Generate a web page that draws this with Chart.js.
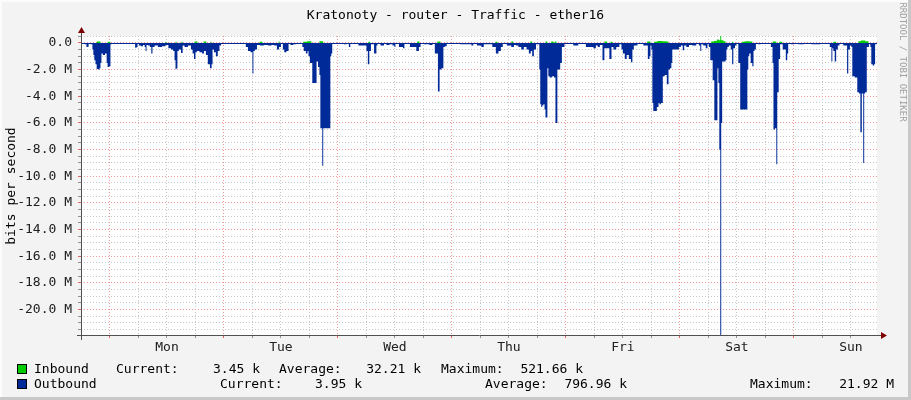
<!DOCTYPE html>
<html>
<head>
<meta charset="utf-8">
<script src="https://cdn.jsdelivr.net/npm/chart.js@4.4.1/dist/chart.umd.min.js"></script>
<style>
body { margin: 0; background: #f3f3f3; }
#wrap { position: relative; width: 911px; height: 400px; overflow: hidden; font-family: "DejaVu Sans Mono", monospace; font-size: 13px; color: #000; }
#wrap canvas { position: absolute; left: 0; top: 0; }
.t { position: absolute; white-space: pre; line-height: 16px; }
.box { position: absolute; width: 10px; height: 10px; box-sizing: border-box; border: 1px solid #000; }
.frame { position: absolute; pointer-events: none; }
</style>
</head>
<body>
<div id="wrap">
    <canvas id="trafficChart" width="911" height="400"></canvas>
    <div class="t" style="left:0;width:911px;text-align:center;top:7px">Kratonoty - router - Traffic - ether16</div>
    <div class="t" style="left:-89px;top:178px;width:200px;text-align:center;transform:rotate(-90deg)">bits per second</div>
    <div class="t" style="left:843px;top:54px;width:120px;text-align:center;transform:rotate(90deg);font-size:9px;color:#a0a0a0">RRDTOOL / TOBI OETIKER</div>

    <div class="box" style="left:17px;top:364px;background:#00cc00"></div>
    <div class="t" style="left:34px;top:361px">Inbound</div>
    <div class="t" style="left:116px;top:361px">Current:</div>
    <div class="t" style="right:651px;top:361px">3.45 k</div>
    <div class="t" style="left:279px;top:361px">Average:</div>
    <div class="t" style="right:490px;top:361px">32.21 k</div>
    <div class="t" style="left:441px;top:361px">Maximum:</div>
    <div class="t" style="right:328px;top:361px">521.66 k</div>

    <div class="box" style="left:17px;top:379px;background:#002a97"></div>
    <div class="t" style="left:34px;top:376px">Outbound</div>
    <div class="t" style="left:220px;top:376px">Current:</div>
    <div class="t" style="right:549px;top:376px">3.95 k</div>
    <div class="t" style="left:485px;top:376px">Average:</div>
    <div class="t" style="right:284px;top:376px">796.96 k</div>
    <div class="t" style="left:750px;top:376px">Maximum:</div>
    <div class="t" style="right:17px;top:376px">21.92 M</div>

    <div class="frame" style="left:0;top:0;width:911px;height:2px;background:#fcfcfc"></div>
    <div class="frame" style="left:0;top:0;width:2px;height:400px;background:#fcfcfc"></div>
    <div class="frame" style="right:0;top:0;width:3px;height:400px;background:#c8c8c8"></div>
    <div class="frame" style="left:0;bottom:0;width:911px;height:3px;background:#c8c8c8"></div>
</div>

<script>
// hours from Monday 00:00, traffic in Mbit/s (outbound drawn negative)
const dayNames = ['Mon', 'Tue', 'Wed', 'Thu', 'Fri', 'Sat', 'Sun'];
const startHour = -6.1;
const endHour = 161.5;
const yMin = -21.9;
const yMax = 0.52;

const inbound = [
    [-6.1, 0], [-2.9, 0], [-2.7, 0.1], [-2.1, 0.1], [-1.9, 0],
    [-0.6, 0], [-0.4, 0.08], [0, 0.08], [0.2, 0],
    [11.6, 0], [11.8, 0.08], [12.0, 0], [13.7, 0], [13.9, 0.08], [14.1, 0],
    [14.9, 0], [15.2, 0.08], [15.4, 0],
    [17.7, 0], [17.9, 0.1], [18.3, 0.1], [18.5, 0],
    [19.6, 0], [19.8, 0.1], [20.2, 0.1], [20.4, 0],
    [21.1, 0], [21.3, 0.08], [21.5, 0],
    [31.4, 0], [31.6, 0.08], [32.0, 0.08], [32.2, 0],
    [35.4, 0], [35.6, 0.1], [35.8, 0],
    [40.6, 0], [40.8, 0.08], [41.3, 0.08], [41.7, 0.12], [42.3, 0.12], [42.5, 0],
    [44.0, 0], [44.2, 0.12], [44.8, 0.12], [45.0, 0],
    [54.3, 0], [54.5, 0.08], [54.7, 0.08], [54.9, 0],
    [64.6, 0], [64.8, 0.1], [65.0, 0.1], [65.3, 0],
    [68.8, 0], [69.0, 0.1], [69.5, 0.1], [69.7, 0],
    [81.0, 0], [81.3, 0.08], [81.5, 0.08], [81.7, 0],
    [84.4, 0], [84.6, 0.1], [84.8, 0.1], [85.0, 0],
    [88.4, 0], [88.6, 0.1], [88.8, 0.1], [89.0, 0],
    [91.6, 0], [91.8, 0.1], [92.0, 0.1], [92.2, 0],
    [92.8, 0], [93.0, 0.1], [93.3, 0.1], [93.5, 0.03], [93.9, 0.1], [94.1, 0],
    [104.0, 0], [104.2, 0.1], [104.6, 0.1], [104.8, 0],
    [105.3, 0], [105.5, 0.08], [105.7, 0.08], [105.9, 0],
    [113.0, 0], [113.2, 0.1], [113.7, 0.1], [113.9, 0],
    [114.5, 0], [114.7, 0.08], [115.8, 0.15], [116.6, 0.12], [117.5, 0.1], [117.7, 0],
    [126.5, 0], [126.7, 0.1], [127.6, 0.15], [128.0, 0.25], [128.4, 0.2], [128.6, 0.52], [128.8, 0.2], [129.5, 0.12], [129.7, 0],
    [130.9, 0], [131.1, 0.08], [131.4, 0],
    [133.0, 0], [133.2, 0.08], [134.1, 0.12], [135.1, 0.1], [135.4, 0],
    [139.4, 0], [139.6, 0.1], [140.2, 0.1], [140.4, 0],
    [140.8, 0], [141.0, 0.08], [141.4, 0.08], [141.7, 0],
    [152.2, 0], [152.4, 0.08], [152.8, 0.08], [153.0, 0],
    [157.5, 0], [157.7, 0.12], [158.5, 0.18], [159.6, 0.12], [159.8, 0],
    [161.5, 0]
];

const outbound = [
    // Sunday evening
    [-6.1, 0], [-5.5, -0.05], [-5.1, -0.1], [-4.8, -0.3], [-4.6, -0.28], [-4.4, -0.05], [-3.8, -0.1],
    [-3.6, -0.5], [-3.4, -0.9], [-3.2, -1.3], [-2.9, -1.6], [-2.7, -1.95], [-2.3, -2.0], [-2.1, -1.9],
    [-1.9, -1.5], [-1.7, -0.8], [-1.3, -0.9], [-0.8, -0.8], [-0.6, -1.5], [-0.4, -1.8], [0, -1.75],
    [0.2, -0.1], [0.6, 0],
    // Mon
    [5.1, -0.05], [5.5, -0.37], [5.7, -0.3], [5.9, -0.05], [6.3, -0.2], [6.7, -0.25], [7.2, -0.15],
    [7.4, -0.3], [7.6, -0.6], [7.8, -0.15], [8.2, -0.2], [8.6, -0.3], [8.8, -0.8], [9.1, -0.3],
    [9.7, -0.2], [10.5, -0.3], [11.4, -0.25], [12.0, -0.15], [12.6, -0.4], [13.1, -0.5], [13.5, -0.6],
    [13.7, -1.3], [13.9, -1.97], [14.1, -1.9], [14.3, -0.6], [14.7, -0.5], [15.2, -0.75], [15.4, -0.2],
    [16.0, -0.3], [16.8, -0.2], [17.3, -0.5], [17.5, -0.8], [17.9, -1.2], [18.1, -0.7], [18.5, -0.6],
    [19.2, -0.7], [19.6, -0.8], [20.0, -0.6], [20.4, -0.9], [20.8, -1.6], [21.3, -1.9], [21.5, -1.6],
    [21.7, -0.5], [22.1, -0.7], [22.5, -1.0], [22.9, -0.6], [23.2, -0.2], [23.6, 0],
    // Tue
    [28.4, -0.05], [28.8, -0.3], [29.3, -0.6], [29.9, -0.7], [30.1, -2.3], [30.3, -0.6], [30.7, -0.5],
    [31.2, -0.15], [32.0, -0.2], [32.8, -0.15], [33.7, -0.2], [34.3, -0.15], [34.9, -0.2], [35.4, -0.5],
    [35.8, -0.3], [36.2, -0.05], [36.6, -0.5], [36.8, -0.7], [37.5, -0.6], [37.7, -0.05], [38.3, -0.15],
    [38.9, -0.1], [39.4, 0],
    [40.4, -0.05], [40.6, -0.3], [41.0, -0.6], [41.5, -0.8], [41.7, -0.6], [41.9, -1.0], [42.3, -1.5],
    [42.5, -1.5], [42.7, -3.0], [43.2, -3.0], [43.4, -3.0], [43.6, -1.4], [44.0, -1.8], [44.2, -2.4],
    [44.4, -6.4], [44.6, -6.4], [44.8, -9.2], [45.0, -6.4], [46.1, -6.4], [46.3, -6.4], [46.5, -1.0],
    [46.7, -0.8], [46.9, -0.05], [47.4, 0],
    // Wed
    [49.0, -0.05], [49.5, -0.1], [50.1, -0.05], [50.5, -0.3], [50.7, -0.05], [53.9, -0.2], [54.1, -0.6],
    [54.5, -1.6], [54.7, -0.6], [55.2, -0.1], [56.0, -0.8], [56.2, -0.2], [56.4, 0],
    [57.5, -0.2], [57.9, -0.05], [58.5, -0.15], [59.2, -0.1], [59.8, -0.2], [60.0, -0.3], [60.2, -0.05],
    [61.5, -0.3], [61.9, -0.4], [62.1, -0.05], [64.2, -0.3], [64.8, -0.6], [65.3, -0.3], [65.5, 0],
    [66.7, -0.1], [67.8, -0.15], [68.0, 0], [68.8, -0.8], [69.3, -3.65], [69.5, -2.0], [70.1, -1.9],
    [70.3, -0.3], [70.7, -0.25], [71.1, -0.05], [71.6, 0],
    // Thu
    [75.8, -0.1], [76.4, -0.2], [76.6, 0], [77.9, -0.2], [78.5, -0.3], [78.9, -0.1], [80.0, -0.1],
    [81.0, -0.3], [81.5, -0.8], [82.1, -0.6], [82.5, -0.3], [82.9, -0.05], [84.2, -0.2], [84.8, -0.3],
    [85.3, -0.15], [85.7, -0.2], [86.3, -0.3], [86.9, -0.5], [87.4, -0.3], [88.0, -0.5], [88.4, -0.8],
    [88.8, -0.6], [89.0, -1.0], [89.5, -0.5], [89.9, -0.1], [90.3, -0.1], [90.5, -2.0], [90.7, -4.6],
    [90.9, -4.8], [91.1, -4.7], [91.4, -4.6], [91.6, -5.0], [91.8, -5.6], [92.0, -5.6], [92.2, -1.9],
    [92.4, -2.5], [92.8, -2.6], [93.3, -2.5], [93.7, -2.6], [93.9, -6.0], [94.1, -6.0], [94.3, -2.0],
    [94.7, -2.0], [94.9, -1.5], [95.4, -0.3], [96.0, -0.05], [96.8, 0],
    // Fri
    [98.3, -0.2], [98.9, -0.05], [101.5, -0.3], [102.1, -0.4], [102.5, -0.2], [102.9, -0.3], [103.4, -0.15],
    [104.0, -1.3], [104.2, -0.4], [104.8, -0.4], [105.5, -1.2], [105.7, -0.3], [106.3, -0.5], [106.9, -0.3],
    [107.6, -0.1], [107.8, -0.5], [108.2, -0.8], [108.6, -1.2], [109.0, -0.9], [109.5, -1.2], [109.9, -1.45],
    [110.1, -0.5], [110.5, -0.2], [111.6, 0],
    [113.0, -0.2], [113.5, -1.2], [113.7, -1.0], [113.9, -0.2], [114.1, -0.5], [114.3, -4.5], [114.5, -5.1],
    [114.9, -5.1], [115.4, -4.8], [115.6, -4.5], [115.8, -4.6], [116.2, -4.5], [116.6, -2.5], [117.0, -2.4],
    [117.5, -3.1], [117.7, -2.0], [118.1, -1.9], [118.3, -1.5], [118.5, -0.5], [119.6, -0.5], [120.0, -0.3],
    [120.4, -0.2], [120.8, -0.55], [121.0, -0.2], [121.7, -0.3], [122.1, -0.15], [123.1, -0.2], [123.8, -0.05],
    [124.2, -0.2], [124.4, -0.6], [124.6, -0.1], [125.2, -0.2], [125.7, -0.4], [125.9, -0.1],
    // Sat
    [126.3, -0.3], [126.5, -1.3], [126.7, -1.3], [127.1, -2.8], [127.4, -5.8], [127.6, -5.8], [127.8, -5.8],
    [128.0, -1.9], [128.2, -3.0], [128.4, -8.0], [128.6, -21.9], [128.8, -6.0], [129.0, -1.4], [129.5, -1.4],
    [129.7, -1.3], [129.9, -0.5], [130.1, -0.3], [130.5, -0.2], [130.9, -0.5], [131.1, -1.6], [131.4, -0.4],
    [131.8, -0.2], [132.0, -0.05],
    [132.6, -1.5], [132.8, -5.0], [133.2, -5.0], [133.5, -5.0], [133.9, -5.0], [134.1, -5.0], [134.3, -2.0],
    [134.5, -1.0], [134.7, -0.8], [135.1, -1.5], [135.4, -1.75], [135.6, -0.6], [135.8, -0.5], [136.2, -0.05],
    [136.8, -0.1], [137.2, -0.05], [138.9, -0.05],
    [139.4, -0.3], [139.6, -1.5], [139.8, -6.5], [140.2, -6.4], [140.4, -9.1], [140.6, -3.7], [141.0, -1.2],
    [141.2, -0.1], [142.1, -0.5], [142.5, -1.3], [142.7, -0.8], [142.9, -0.05], [143.8, -0.1], [144.2, -0.05],
    [145.7, -0.1], [146.5, 0],
    // Sun
    [149.0, -0.1], [149.5, -0.1], [149.7, 0], [151.3, -0.05], [151.8, -0.3], [152.0, -1.4], [152.2, -0.4],
    [152.4, -0.6], [152.8, -1.4], [153.0, -0.5], [153.5, -0.2], [153.7, -0.05],
    [155.1, -0.2], [155.3, -2.3], [155.6, -0.5], [156.0, -0.2], [156.2, -0.3], [156.4, -2.5], [157.2, -2.6],
    [157.5, -3.7], [157.9, -3.8], [158.1, -6.7], [158.5, -3.8], [158.7, -9.0], [158.9, -3.8], [159.1, -3.7],
    [159.6, -0.3], [160.0, -0.1], [160.2, -0.3], [160.4, -1.6], [160.8, -1.7], [161.0, -1.6], [161.2, -0.1],
    [161.5, 0]
];

const MONO = '"DejaVu Sans Mono", monospace';

const rrdFrame = {
    id: 'rrdFrame',
    beforeDraw(chart) {
        const { ctx, chartArea: a } = chart;
        ctx.save();
        ctx.fillStyle = '#ffffff';
        ctx.fillRect(a.left, a.top, a.right - a.left, a.bottom - a.top);
        ctx.restore();
    },
    afterDatasetsDraw(chart) {
        const { ctx, chartArea: a } = chart;
        const y0 = Math.round(chart.scales.y.getPixelForValue(0)) + 0.5;
        ctx.save();
        ctx.strokeStyle = '#002a97';
        ctx.lineWidth = 1;
        ctx.beginPath();
        ctx.moveTo(a.left, y0);
        ctx.lineTo(a.right, y0);
        ctx.stroke();

        // axes
        const xb = Math.round(a.bottom) + 0.5;
        const yl = Math.round(a.left) + 0.5;
        ctx.strokeStyle = '#505050';
        ctx.beginPath();
        ctx.moveTo(a.left - 4, xb);
        ctx.lineTo(a.right + 5, xb);
        ctx.moveTo(yl, a.bottom + 5);
        ctx.lineTo(yl, a.top - 4);
        ctx.stroke();

        // arrow heads
        ctx.fillStyle = '#7f0000';
        ctx.beginPath();
        ctx.moveTo(a.right + 10, xb);
        ctx.lineTo(a.right + 4, xb - 3.5);
        ctx.lineTo(a.right + 4, xb + 3.5);
        ctx.closePath();
        ctx.fill();
        ctx.beginPath();
        ctx.moveTo(yl, a.top - 9);
        ctx.lineTo(yl - 3.5, a.top - 3);
        ctx.lineTo(yl + 3.5, a.top - 3);
        ctx.closePath();
        ctx.fill();
        ctx.restore();
    }
};

const ctx = document.querySelector('#trafficChart').getContext('2d');

new Chart(ctx, {
    type: 'line',
    data: {
        datasets: [{
            label: 'Inbound',
            data: inbound.map(([x, y]) => ({ x, y })),
            fill: 'origin',
            backgroundColor: '#00cc00',
            borderWidth: 0,
            pointRadius: 0,
            stepped: 'middle'
        }, {
            label: 'Outbound',
            data: outbound.map(([x, y]) => ({ x, y })),
            fill: 'origin',
            backgroundColor: '#002a97',
            borderWidth: 0,
            pointRadius: 0,
            stepped: 'middle'
        }]
    },
    options: {
        responsive: false,
        animation: false,
        events: [],
        layout: { padding: { top: 36, right: 34, left: 0, bottom: 0 } },
        plugins: {
            legend: { display: false },
            tooltip: { enabled: false }
        },
        scales: {
            x: {
                type: 'linear',
                min: startHour,
                max: endHour,
                afterBuildTicks: scale => {
                    const ticks = [];
                    for (let h = Math.ceil(startHour / 6) * 6; h <= endHour; h += 6) {
                        ticks.push({ value: h });
                    }
                    scale.ticks = ticks;
                },
                afterFit: scale => { scale.height = 65; },
                ticks: {
                    autoSkip: false,
                    maxRotation: 0,
                    padding: 2,
                    color: '#202020',
                    font: { family: MONO, size: 13 },
                    callback: value => (value % 24 === 12 ? dayNames[(value - 12) / 24] : '')
                },
                grid: {
                    color: c => (c.tick && c.tick.value % 24 === 0 ? '#f09a9a' : '#c8c8c8'),
                    tickColor: c => (c.tick && c.tick.value % 24 === 0 ? '#e06060' : '#909090'),
                    tickLength: 3,
                    tickBorderDash: [],
                    lineWidth: 1
                },
                border: { display: false, dash: [1, 2] }
            },
            y: {
                min: yMin,
                max: yMax,
                afterBuildTicks: scale => {
                    const ticks = [];
                    for (let i = Math.ceil(yMin * 2); i <= Math.floor(yMax * 2); i++) {
                        ticks.push({ value: i / 2 });
                    }
                    scale.ticks = ticks;
                },
                afterFit: scale => { scale.width = 81; },
                ticks: {
                    autoSkip: false,
                    padding: 6,
                    color: '#202020',
                    font: { family: MONO, size: 13 },
                    callback: value => {
                        if (value % 2 !== 0) return '';
                        return value === 0 ? '0.0' : value.toFixed(1) + ' M';
                    }
                },
                grid: {
                    color: c => (c.tick && c.tick.value % 2 === 0 ? '#f09a9a' : '#c8c8c8'),
                    tickColor: c => (c.tick && c.tick.value % 2 === 0 ? '#e06060' : '#909090'),
                    tickLength: 3,
                    tickBorderDash: [],
                    lineWidth: 1
                },
                border: { display: false, dash: [1, 2] }
            }
        }
    },
    plugins: [rrdFrame]
});
</script>
</body>
</html>
